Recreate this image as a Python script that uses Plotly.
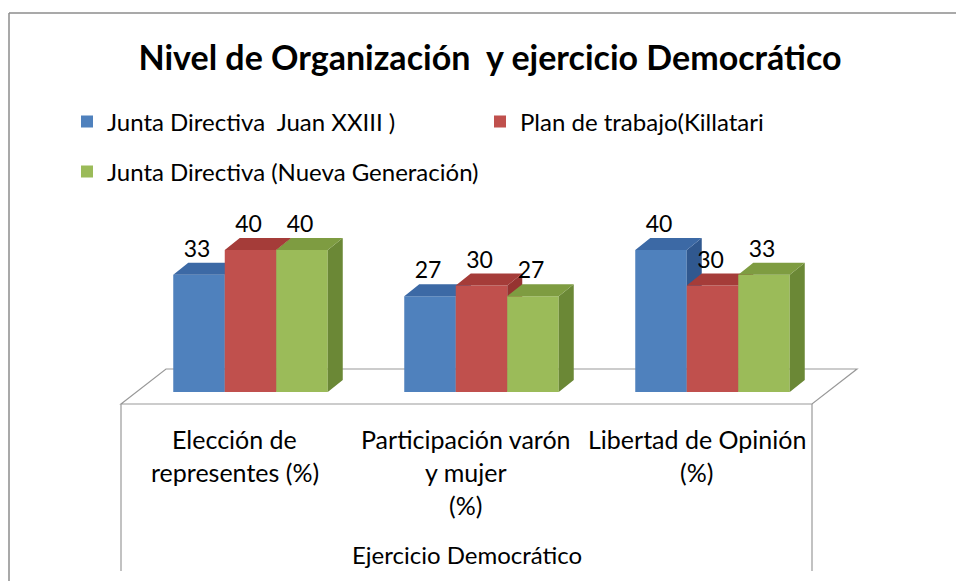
import plotly.graph_objects as go

# ---------------- data ----------------
title_text = "Nivel de Organización  y ejercicio Democrático"
categories = ["Elección de\nrepresentes (%)",
              "Participación varón\ny mujer\n(%)",
              "Libertad de Opinión\n(%)"]
group_label = "Ejercicio Democrático"
series_names = ["Junta Directiva  Juan XXIII )",
                "Plan de trabajo(Killatari",
                "Junta Directiva (Nueva Generación)"]
juan_xxiii = [33, 27, 40]
killatari = [40, 30, 30]
nueva_generacion = [40, 27, 33]
series_values = [juan_xxiii, killatari, nueva_generacion]

# ---------------- style / layout ----------------
front_colors = ["#4F81BD", "#C0504D", "#9BBB59"]
top_colors = ["#3C69A5", "#A53C39", "#7E9C41"]
side_colors = ["#30588F", "#963431", "#6B8836"]
FONT = "Lato"
W, H = 956, 581

CAT_PX0 = 250.5      # pixel x of first category centre
CAT_STEP = 231.0     # pixels per category
BAR_W_PX = 51.5
BASE_Y_PX = 392.0    # pixel y of value 0 (front)
PX_PER_UNIT = 3.55
DEPTH_DX_PX, DEPTH_DY_PX = 15.0, 12.0

FLOOR_FRONT_Y, FLOOR_BACK_Y = 404, 369
FLOOR_FRONT_L, FLOOR_FRONT_R, FLOOR_DX = 121, 812, 45
AXIS_LINE_BOTTOM = 571

xr = [-CAT_PX0 / CAT_STEP, (W - CAT_PX0) / CAT_STEP]
yr = [-(H - BASE_Y_PX) / PX_PER_UNIT, BASE_Y_PX / PX_PER_UNIT]
bw = BAR_W_PX / CAT_STEP
ddx = DEPTH_DX_PX / CAT_STEP
ddy = DEPTH_DY_PX / PX_PER_UNIT


def px(xp):
    return xp / W


def py(yp):
    return 1 - yp / H


fig = go.Figure()
n_cat = len(categories)
n_ser = len(series_values)

for k, vals in enumerate(series_values):
    xa = "x" if k == 0 else f"x{k + 1}"
    ya = "y" if k == 0 else f"y{k + 1}"
    centers = [i + (k - (n_ser - 1) / 2) * bw for i in range(n_cat)]
    fig.add_trace(go.Bar(
        x=centers, y=vals, width=bw, name=series_names[k],
        marker=dict(color=front_colors[k], line=dict(width=0)),
        xaxis=xa, yaxis=ya, legend="legend" if k < 2 else "legend2",
        hoverinfo="skip"))
    tx, ty = [], []
    sx, sy = [], []
    for c, v in zip(centers, vals):
        x0, x1 = c - bw / 2, c + bw / 2
        tx += [x0, x1, x1 + ddx, x0 + ddx, x0, None]
        ty += [v, v, v + ddy, v + ddy, v, None]
        sx += [x1, x1, x1 + ddx, x1 + ddx, x1, None]
        sy += [0, v, v + ddy, ddy, 0, None]
    fig.add_trace(go.Scatter(x=sx, y=sy, fill="toself", fillcolor=side_colors[k],
                             mode="lines", line=dict(width=0), showlegend=False,
                             hoverinfo="skip", xaxis=xa, yaxis=ya))
    fig.add_trace(go.Scatter(x=tx, y=ty, fill="toself", fillcolor=top_colors[k],
                             mode="lines", line=dict(width=0), showlegend=False,
                             hoverinfo="skip", xaxis=xa, yaxis=ya))

# data labels (drawn on top layer)
for k, vals in enumerate(series_values):
    centers = [i + (k - (n_ser - 1) / 2) * bw for i in range(n_cat)]
    fig.add_trace(go.Scatter(
        x=[c - 2 / CAT_STEP for c in centers], y=[v + ddy for v in vals],
        mode="text", text=[str(v) for v in vals], textposition="top center",
        textfont=dict(family=FONT, size=23, color="#000000"),
        showlegend=False, hoverinfo="skip", xaxis=f"x{n_ser}", yaxis=f"y{n_ser}"))

axis_common = dict(visible=False, fixedrange=True)
layout_axes = {}
for k in range(n_ser):
    xn = "xaxis" if k == 0 else f"xaxis{k + 1}"
    yn = "yaxis" if k == 0 else f"yaxis{k + 1}"
    xd = dict(range=xr, domain=[0, 1], **axis_common)
    yd = dict(range=yr, domain=[0, 1], **axis_common)
    if k > 0:
        xd.update(overlaying="x", anchor=f"y{k + 1}")
        yd.update(overlaying="y", anchor=f"x{k + 1}")
    layout_axes[xn] = xd
    layout_axes[yn] = yd

shapes = []
line_col = "#8C8C8C"
shapes.append(dict(type="line", xref="paper", yref="paper", x0=px(9), x1=px(W + 5),
                   y0=py(13), y1=py(13), line=dict(color=line_col, width=1.5)))
shapes.append(dict(type="line", xref="paper", yref="paper", x0=px(9), x1=px(9),
                   y0=py(13), y1=py(H + 5), line=dict(color=line_col, width=1.5)))
floor_path = (f"M{px(FLOOR_FRONT_L)},{py(FLOOR_FRONT_Y)} "
              f"L{px(FLOOR_FRONT_L + FLOOR_DX)},{py(FLOOR_BACK_Y)} "
              f"L{px(FLOOR_FRONT_R + FLOOR_DX)},{py(FLOOR_BACK_Y)} "
              f"L{px(FLOOR_FRONT_R)},{py(FLOOR_FRONT_Y)} Z")
shapes.append(dict(type="path", xref="paper", yref="paper", path=floor_path,
                   fillcolor="#FFFFFF", layer="below",
                   line=dict(color="#999999", width=1.2)))
for xp in (FLOOR_FRONT_L, FLOOR_FRONT_R):
    shapes.append(dict(type="line", xref="paper", yref="paper", x0=px(xp), x1=px(xp),
                       y0=py(FLOOR_FRONT_Y), y1=py(AXIS_LINE_BOTTOM),
                       line=dict(color="#999999", width=1.2)))

annotations = []
LABEL_Y0, LABEL_DY = 439, 33
for i, cat in enumerate(categories):
    for j, line in enumerate(cat.split("\n")):
        annotations.append(dict(
            x=i, xref="x", y=py(LABEL_Y0 + j * LABEL_DY), yref="paper",
            text=line, showarrow=False, xanchor="center", yanchor="middle",
            xshift=-16, font=dict(family=FONT, size=25, color="#000000")))
annotations.append(dict(
    x=px((FLOOR_FRONT_L + FLOOR_FRONT_R) / 2), xref="paper", y=py(554), yref="paper",
    text=group_label, showarrow=False, xanchor="center", yanchor="middle",
    font=dict(family=FONT, size=24, color="#000000")))

fig.update_layout(
    width=W, height=H,
    margin=dict(l=0, r=0, t=0, b=0),
    paper_bgcolor="#FFFFFF", plot_bgcolor="rgba(0,0,0,0)",
    barmode="overlay",
    title=dict(text=f"<b>{title_text}</b>", x=px(490), y=py(58), xanchor="center",
               yanchor="middle", font=dict(family=FONT, size=34, color="#000000")),
    legend=dict(orientation="h", x=px(67), y=py(122), xanchor="left", yanchor="middle",
                entrywidth=368, entrywidthmode="pixels", bgcolor="rgba(0,0,0,0)",
                font=dict(family=FONT, size=24, color="#000000"), traceorder="normal"),
    legend2=dict(orientation="h", x=px(67), y=py(172), xanchor="left", yanchor="middle",
                 bgcolor="rgba(0,0,0,0)",
                 font=dict(family=FONT, size=24, color="#000000")),
    shapes=shapes, annotations=annotations,
    showlegend=True,
    **layout_axes,
)

fig.write_html("out.html",
               config={"displayModeBar": False},
               post_script="document.body.style.margin='0';"
                           "document.body.style.overflow='hidden';")
